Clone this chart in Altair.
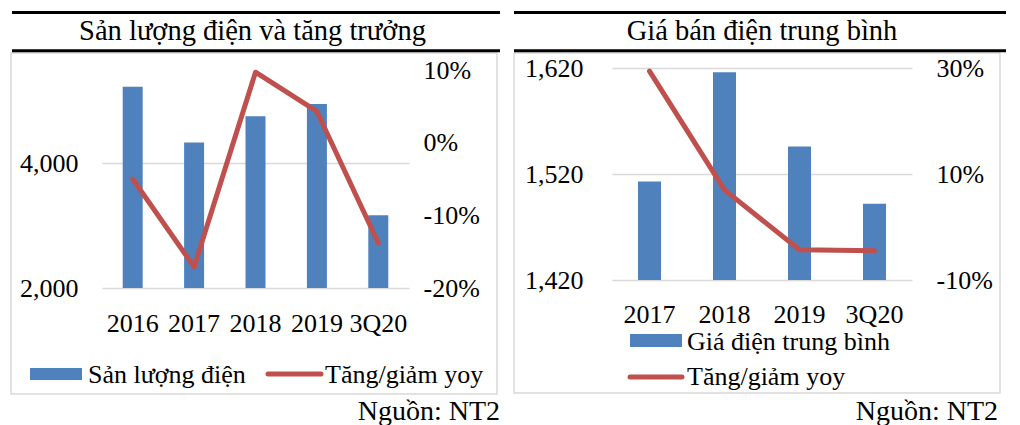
import altair as alt
import pandas as pd

FONT = "Liberation Serif"
BLUE = "#4F81BD"
RED = "#C0504D"
GRID = "#D9D9D9"

# ---------------- data ----------------
left_categories = ["2016", "2017", "2018", "2019", "3Q20"]
left_output = [5220, 4330, 4750, 4945, 3165]
left_yoy = [-0.050, -0.171, 0.097, 0.043, -0.138]

right_categories = ["2017", "2018", "2019", "3Q20"]
right_price = [1513, 1616, 1546, 1492]
right_yoy = [0.294, 0.070, -0.043, -0.045]

left_title = "Sản lượng điện và tăng trưởng"
right_title = "Giá bán điện trung bình"
left_bar_label = "Sản lượng điện"
right_bar_label = "Giá điện trung bình"
line_label = "Tăng/giảm yoy"
source_label = "Nguồn: NT2"

left_bar_domain = [2000, 5520]
left_bar_ticks = [2000, 4000]
left_line_domain = [-0.2, 0.1028]
left_line_ticks = [-0.2, -0.1, 0.0, 0.1]

right_bar_domain = [1420, 1620]
right_bar_ticks = [1420, 1520, 1620]
right_line_domain = [-0.1, 0.3]
right_line_ticks = [-0.1, 0.1, 0.3]

PCT_EXPR = "(datum.value < -0.0001 ? '-' : '') + format(abs(datum.value) * 100, '.0f') + '%'"
NUM_EXPR = "format(datum.value, ',.0f')"

ONE = alt.Data(values=[{"k": 0}])


def hline(x1, x2, y, color, width, cap="butt"):
    return alt.Chart(ONE).mark_rule(color=color, strokeWidth=width, strokeCap=cap).encode(
        x=alt.value(x1), x2=alt.value(x2), y=alt.value(y))


def box(x1, x2, y1, y2):
    return alt.Chart(ONE).mark_rect(fillOpacity=0, stroke=GRID, strokeWidth=1.5).encode(
        x=alt.value(x1), x2=alt.value(x2), y=alt.value(y1), y2=alt.value(y2))


def swatch(x1, x2, y1, y2):
    return alt.Chart(ONE).mark_rect(color=BLUE).encode(
        x=alt.value(x1), x2=alt.value(x2), y=alt.value(y1), y2=alt.value(y2))


def label(s, x, y, align="left", size=26):
    return alt.Chart(ONE).mark_text(font=FONT, fontSize=size, color="black", align=align,
                                    baseline="alphabetic").encode(
        x=alt.value(x), y=alt.value(y), text=alt.value(s))


def panel(cats, bars, yoy, bar_domain, bar_ticks, line_domain, line_ticks,
          W, H, bar_size, xpad, lpad, rpad, deco):
    df = pd.DataFrame({"cat": cats, "val": bars, "yoy": yoy,
                       "base": [bar_domain[0]] * len(cats)})
    xenc = alt.X("cat:N", sort=cats,
                 scale=alt.Scale(type="band", paddingInner=0, paddingOuter=0),
                 axis=alt.Axis(title=None, labelAngle=0, domain=False, ticks=False,
                               tickSize=0, labelPadding=xpad, grid=False))
    base = alt.Chart(df)
    bar = base.mark_bar(size=bar_size, color=BLUE).encode(
        x=xenc,
        y=alt.Y("val:Q", scale=alt.Scale(domain=bar_domain, zero=False, nice=False),
                axis=alt.Axis(values=bar_ticks, labelExpr=NUM_EXPR, title=None, orient="left",
                              domain=False, ticks=False, tickSize=0, labelPadding=lpad,
                              grid=True, gridColor=GRID, gridWidth=1.5)),
        y2=alt.Y2("base:Q"),
    )
    line = base.mark_line(color=RED, strokeWidth=5, strokeCap="round",
                          strokeJoin="round").encode(
        x=xenc,
        y=alt.Y("yoy:Q", scale=alt.Scale(domain=line_domain, zero=False, nice=False),
                axis=alt.Axis(values=line_ticks, labelExpr=PCT_EXPR, title=None,
                              orient="right", domain=False, ticks=False, tickSize=0,
                              labelPadding=rpad, grid=False)),
    )
    return alt.layer(*deco, bar, line).resolve_scale(y="independent").properties(
        width=W, height=H)


# left panel: plot origin at (102, 68) on the page
left_deco = [
    box(-91, 395, -15, 326),
    hline(-90, 398, -55.5, "black", 3),
    hline(-90, 398, -17.3, "black", 3),
    label(left_title, 150.5, -28, align="center", size=28.5),
    swatch(-72, -20, 300, 312),
    label(left_bar_label, -14, 315),
    hline(166, 219, 306, RED, 5, cap="round"),
    label(line_label, 223, 315),
    label(source_label, 398, 352, align="right", size=28),
]
left = panel(left_categories, left_output, left_yoy, left_bar_domain, left_bar_ticks,
             left_line_domain, left_line_ticks, 307, 220, 20, 22, 24, 14, left_deco)

# right panel: plot origin at (611, 68) on the page
right_deco = [
    box(-98, 388, -15, 325),
    hline(-98, 394, -55.5, "black", 3),
    hline(-98, 394, -17.3, "black", 3),
    label(right_title, 150, -28, align="center", size=28.5),
    swatch(18, 70, 266, 279),
    label(right_bar_label, 75, 282),
    hline(18, 70, 309, RED, 5, cap="round"),
    label(line_label, 75, 317),
    label(source_label, 386, 352, align="right", size=28),
]
right = panel(right_categories, right_price, right_yoy, right_bar_domain, right_bar_ticks,
              right_line_domain, right_line_ticks, 300, 212, 23, 21, 29, 24, right_deco)

chart = alt.hconcat(left, right, spacing=10).properties(
    padding={"left": 2, "top": 3, "right": 0, "bottom": 0},
    background="white",
).configure_view(strokeWidth=0).configure_axis(
    labelFont=FONT, labelFontSize=26, labelColor="black"
)

chart.save("out.html", embed_options={"renderer": "svg", "actions": False})
